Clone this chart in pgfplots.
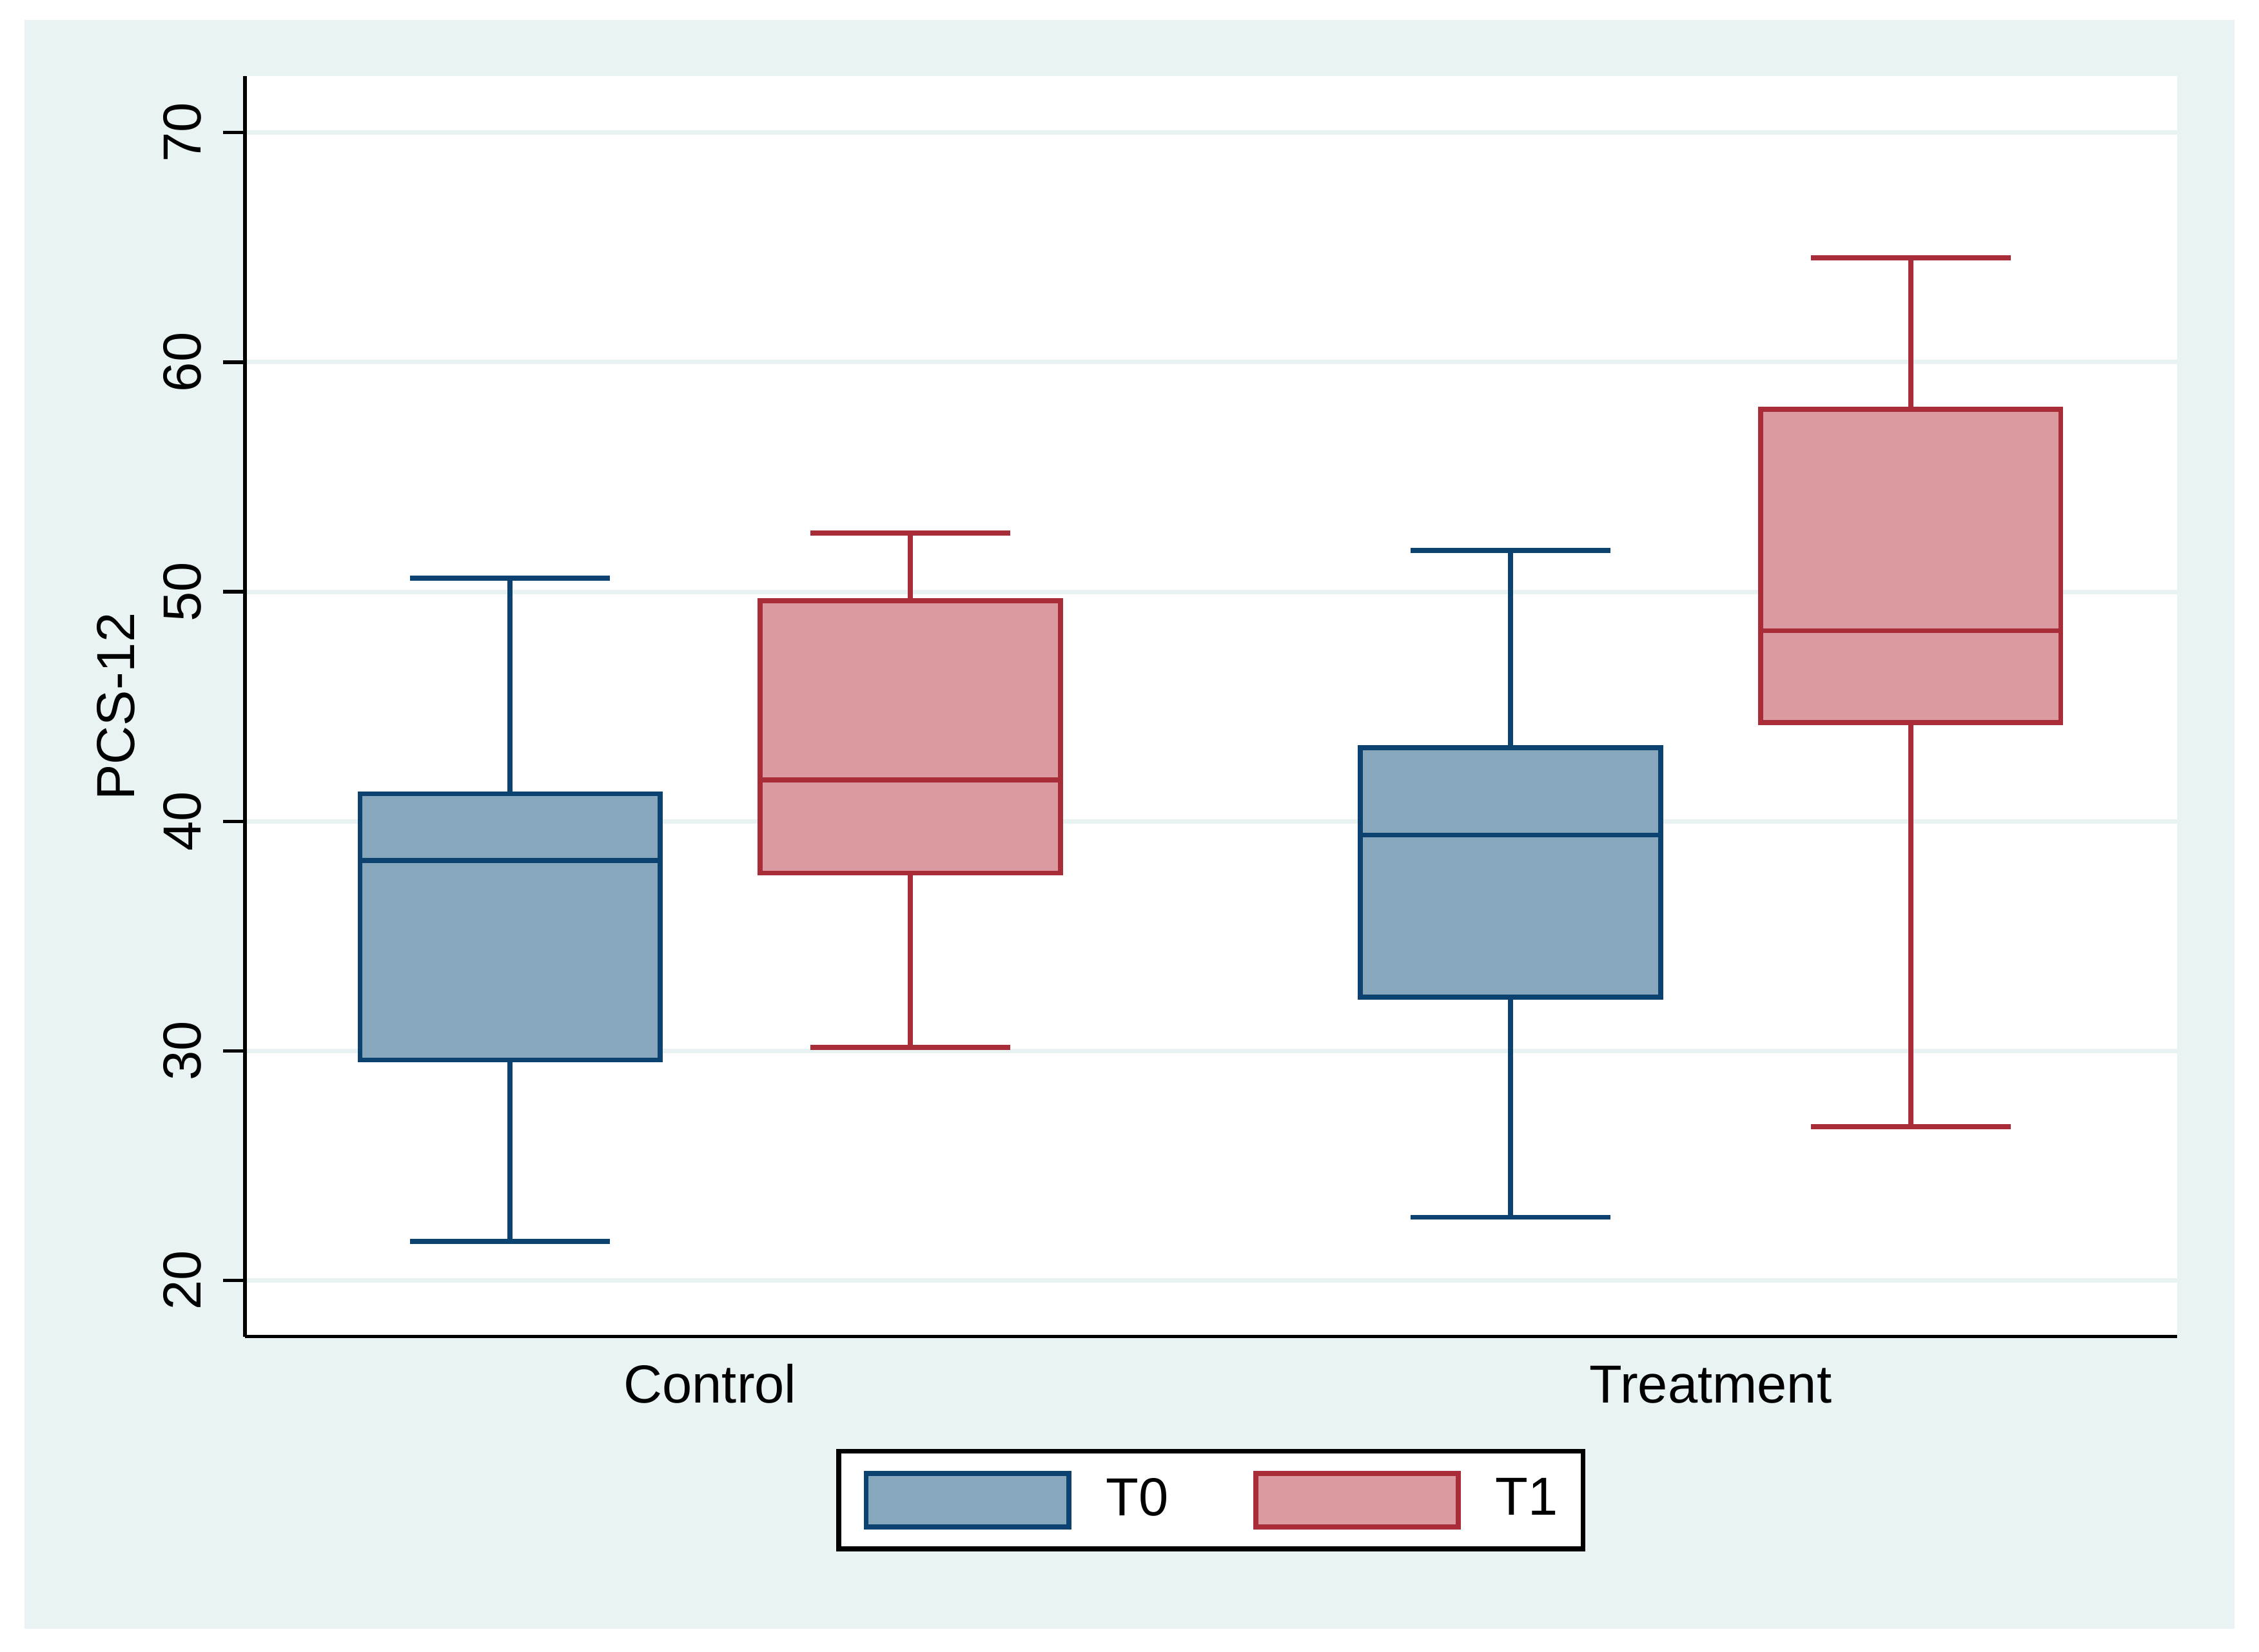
\documentclass[border=0pt]{standalone}
\usepackage{fontspec}
\setmainfont{Liberation Sans}
\usepackage{pgfplots}
\pgfplotsset{compat=1.18}
\definecolor{bgc}{RGB}{233,243,243}
\definecolor{gridc}{RGB}{232,242,243}
\definecolor{tzd}{RGB}{12,66,112}
\definecolor{tzf}{RGB}{134,167,188}
\definecolor{tod}{RGB}{168,45,56}
\definecolor{tof}{RGB}{218,154,160}
\begin{document}
\begin{tikzpicture}
\fill[white] (-54.4pt,-69.92pt) rectangle (447.36pt,296.96pt);
\fill[bgc] (-48.96pt,-64.96pt) rectangle (441.92pt,292.48pt);
\fill[white] (0pt,0pt) rectangle (429.12pt,280pt);
\begin{axis}[
  at={(0,0)}, anchor=south west,
  scale only axis, width=429.12pt, height=280pt,
  xmin=0.535, xmax=2.466, ymin=17.55, ymax=72.45,
  axis x line*=bottom, axis y line*=left,
  axis line style={-, line width=0.75pt, black},
  ytick={20,30,...,70},
  xtick={1,2}, xticklabels={Control,Treatment},
  xtick style={draw=none},
  ytick style={line width=0.75pt, black},
  tick align=outside, major tick length=4.8pt,
  ymajorgrids, grid style={line width=1pt, gridc},
  /pgf/number format/assume math mode=true,
  ticklabel style={font=\fontsize{11.9}{14}\selectfont},
  yticklabel style={anchor=base, xshift=-5pt, rotate=90, inner sep=0pt},
  xticklabel style={anchor=base, yshift=-9.9pt, inner sep=0pt},
  ylabel={PCS-12},
  every axis y label/.style={at={(axis description cs:0,0.5)}, xshift=-24.5pt, rotate=90, anchor=base, inner sep=0pt, font=\fontsize{11.9}{14}\selectfont},
  legend image code/.code={\draw[#1] (0pt,-5.92pt) rectangle (45pt,5.92pt);},
  legend columns=2,
  legend style={at={(axis description cs:0.5,-0.1297)}, anchor=center,
    draw=black, line width=1.1pt, fill=white,
    inner xsep=5.5pt, inner ysep=4.4pt,
    font=\fontsize{11.9}{14}\selectfont,
    nodes={inner sep=0pt},
    /tikz/every odd column/.append style={column sep=7.7pt},
    /tikz/every even column/.append style={column sep=18.9pt}},
  unbounded coords=jump,
  every axis plot/.append style={line width=1.1pt, line join=miter},
]
\addlegendimage{draw=tzd, fill=tzf, line width=1.1pt}
\addlegendentry{T0}
\addlegendimage{draw=tod, fill=tof, line width=1.1pt}
\addlegendentry{T1}
% Control, T0: whiskers 21.7 / 50.6, quartiles 29.6 / 41.2, median 38.3
\addplot[draw=tzd, forget plot] coordinates {(0.8,41.2) (0.8,50.6) (nan,nan) (0.7,50.6) (0.9,50.6) (nan,nan) (0.8,29.6) (0.8,21.7) (nan,nan) (0.7,21.7) (0.9,21.7)};
\addplot[draw=tzd, fill=tzf, forget plot] coordinates {(0.65,29.6) (0.95,29.6) (0.95,41.2) (0.65,41.2)} -- cycle;
\addplot[draw=tzd, forget plot] coordinates {(0.65,38.3) (0.95,38.3)};
% Control, T1: whiskers 30.15 / 52.55, quartiles 37.75 / 49.6, median 41.8
\addplot[draw=tod, forget plot] coordinates {(1.2,49.6) (1.2,52.55) (nan,nan) (1.1,52.55) (1.3,52.55) (nan,nan) (1.2,37.75) (1.2,30.15) (nan,nan) (1.1,30.15) (1.3,30.15)};
\addplot[draw=tod, fill=tof, forget plot] coordinates {(1.05,37.75) (1.35,37.75) (1.35,49.6) (1.05,49.6)} -- cycle;
\addplot[draw=tod, forget plot] coordinates {(1.05,41.8) (1.35,41.8)};
% Treatment, T0: whiskers 22.75 / 51.8, quartiles 32.35 / 43.2, median 39.4
\addplot[draw=tzd, forget plot] coordinates {(1.8,43.2) (1.8,51.8) (nan,nan) (1.7,51.8) (1.9,51.8) (nan,nan) (1.8,32.35) (1.8,22.75) (nan,nan) (1.7,22.75) (1.9,22.75)};
\addplot[draw=tzd, fill=tzf, forget plot] coordinates {(1.65,32.35) (1.95,32.35) (1.95,43.2) (1.65,43.2)} -- cycle;
\addplot[draw=tzd, forget plot] coordinates {(1.65,39.4) (1.95,39.4)};
% Treatment, T1: whiskers 26.7 / 64.55, quartiles 44.3 / 57.95, median 48.3
\addplot[draw=tod, forget plot] coordinates {(2.2,57.95) (2.2,64.55) (nan,nan) (2.1,64.55) (2.3,64.55) (nan,nan) (2.2,44.3) (2.2,26.7) (nan,nan) (2.1,26.7) (2.3,26.7)};
\addplot[draw=tod, fill=tof, forget plot] coordinates {(2.05,44.3) (2.35,44.3) (2.35,57.95) (2.05,57.95)} -- cycle;
\addplot[draw=tod, forget plot] coordinates {(2.05,48.3) (2.35,48.3)};
\end{axis}
\end{tikzpicture}
\end{document}
